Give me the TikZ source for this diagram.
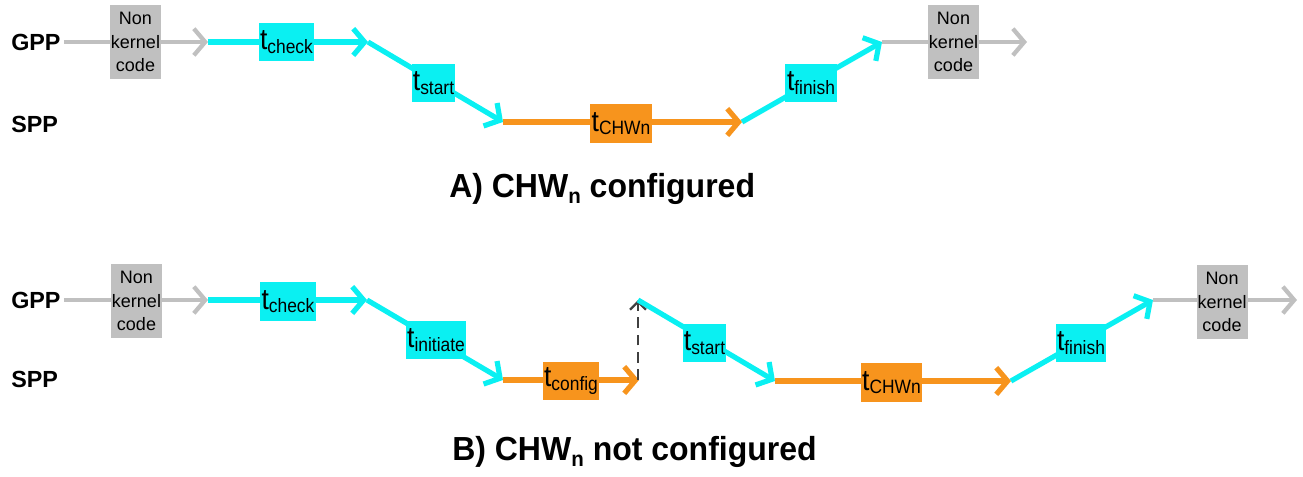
\documentclass[tikz,border=0pt]{standalone}
\usepackage{fontspec}
\usepackage{graphicx}
\setmainfont{Liberation Sans}
\usetikzlibrary{arrows.meta}
\definecolor{cy}{RGB}{10,240,242}
\definecolor{orng}{RGB}{247,148,29}
\definecolor{gry}{RGB}{192,192,192}
\newcommand\tlab[1]{\scalebox{0.9}[1]{{\fontsize{22}{22}\selectfont t}\raisebox{-2.5pt}{\fontsize{14.5}{14.5}\selectfont #1}}}
\newcommand\ttlsub{\raisebox{-5pt}{\fontsize{16}{16}\selectfont n}}
\begin{document}
\begin{tikzpicture}[x=0.75pt,y=-0.75pt,
  tip/.style={-{Straight Barb[length=8.5pt,width=20pt]}},
  gline/.style={gry,line width=3.2pt,tip},
  cline/.style={cy,line width=3.9pt,tip},
  oline/.style={orng,line width=3.9pt,tip},
  dline/.style={black!75,line width=1.8pt,dash pattern=on 8pt off 5pt,-{Straight Barb[length=6pt,width=12pt]}},
  bx/.style n args={2}{inner sep=0pt,minimum width=#1*0.75pt,minimum height=#2*0.75pt},
  cbox/.style n args={2}{bx={#1}{#2},fill=cy},
  obox/.style n args={2}{bx={#1}{#2},fill=orng},
  nkbox/.style={bx={51}{74},fill=gry,align=center,font=\fontsize{13.5}{17.5}\selectfont},
  proc/.style={font=\fontsize{17.5}{17.5}\selectfont\bfseries,anchor=base west,inner sep=0pt},
  ttl/.style={font=\fontsize{25}{28}\selectfont\bfseries,anchor=base west,inner sep=0pt}
]
\useasboundingbox (0,0) rectangle (1303,476);

% ---------- Panel A ----------
\node[proc] (gppA) at (11,50) {GPP};
\node[proc] (sppA) at (11,132) {SPP};
\coordinate (a1) at (208,42);
\coordinate (a2) at (368,42);
\coordinate (a3) at (503,122);
\coordinate (a4) at (742,122);
\coordinate (a5) at (882,42);
\coordinate (a6) at (1027,42);
\draw[gline] (gppA.east |- a1) ++(3,0) -- (a1);
\draw[cline] (a1) -- (a2);
\draw[cline] (a2) -- (a3);
\draw[oline] (a3) -- (a4);
\draw[cline] (a4) -- (a5);
\draw[gline] (a5) -- (a6);
\node[nkbox] (nkA1) at (135.5,42) {Non\\kernel\\code};
\node[cbox={55}{38}] (tcheckA) at (286.5,42) {\makebox[0pt]{\tlab{check}}};
\node[cbox={43}{38}] (tstartA) at (433.5,83) {\makebox[0pt]{\tlab{start}}};
\node[obox={62}{39}] (tchwA) at (621,123.5) {\makebox[0pt]{\tlab{CHWn}}};
\node[cbox={52}{38}] (tfinishA) at (811,83) {\makebox[0pt]{\tlab{finish}}};
\node[nkbox] (nkA2) at (953.5,42) {Non\\kernel\\code};
\node[ttl] (titleA) at (449,197) {\scalebox{0.96}[1]{A) CHW\ttlsub{} configured}};

% ---------- Panel B ----------
\node[proc] (gppB) at (11,308) {GPP};
\node[proc] (sppB) at (11,387) {SPP};
\coordinate (b1) at (208,300);
\coordinate (b2) at (367,300);
\coordinate (b3) at (503,380);
\coordinate (b4) at (639,380);
\coordinate (b5) at (638,300);
\coordinate (b6) at (775,381);
\coordinate (b7) at (1011,381);
\coordinate (b8) at (1153,300);
\coordinate (b9) at (1297,300);
\draw[gline] (gppB.east |- b1) ++(3,0) -- (b1);
\draw[cline] (b1) -- (b2);
\draw[cline] (b2) -- (b3);
\draw[oline] (b3) -- (b4);
\draw[dline] (b4) ++(-1,0) -- (b5);
\draw[cline] (b5) -- (b6);
\draw[oline] (b6) -- (b7);
\draw[cline] (b7) -- (b8);
\draw[gline] (b8) -- (b9);
\node[nkbox] (nkB1) at (136.5,301) {Non\\kernel\\code};
\node[cbox={56}{39}] (tcheckB) at (288,301.5) {\makebox[0pt]{\tlab{check}}};
\node[cbox={60}{38}] (tinitB) at (436,340) {\makebox[0pt]{\tlab{initiate}}};
\node[obox={56}{38}] (tconfigB) at (571,381) {\makebox[0pt]{\tlab{config}}};
\node[cbox={43}{38}] (tstartB) at (704.5,343) {\makebox[0pt]{\tlab{start}}};
\node[obox={61}{39}] (tchwB) at (891.5,382.5) {\makebox[0pt]{\tlab{CHWn}}};
\node[cbox={50}{38}] (tfinishB) at (1081,343) {\makebox[0pt]{\tlab{finish}}};
\node[nkbox] (nkB2) at (1222,302) {Non\\kernel\\code};
\node[ttl] (titleB) at (452,460) {\scalebox{0.96}[1]{B) CHW\ttlsub{} not configured}};
\end{tikzpicture}
\end{document}
